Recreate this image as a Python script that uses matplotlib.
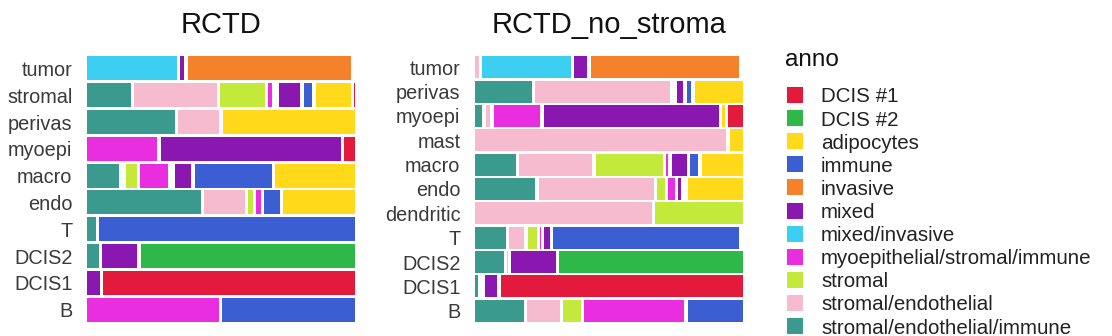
import numpy as np
import matplotlib
matplotlib.use("Agg")
from matplotlib import pyplot as plt
from matplotlib.patches import Rectangle

plt.rcParams['font.family'] = ['Liberation Sans', 'DejaVu Sans']

# categories, in the order they are stacked left -> right
anno_order = ["stromal/endothelial/immune", "stromal/endothelial", "stromal",
              "myoepithelial/stromal/immune", "mixed/invasive", "mixed",
              "invasive", "immune", "adipocytes", "DCIS #2", "DCIS #1"]
anno_colors = ["#3B9A8E", "#F7BBD0", "#C3EA3A", "#E92EE0", "#3CCFF2", "#8A18B0",
               "#F5822A", "#3B5FD2", "#FFD91A", "#2EB84A", "#E41A3C"]

# legend order (alphabetical, as in the reference)
legend_order = ["DCIS #1", "DCIS #2", "adipocytes", "immune", "invasive", "mixed",
                "mixed/invasive", "myoepithelial/stromal/immune", "stromal",
                "stromal/endothelial", "stromal/endothelial/immune"]

# relative shares per row (columns follow anno_order)
rctd_rows = ["tumor", "stromal", "perivas", "myoepi", "macro", "endo",
             "T", "DCIS2", "DCIS1", "B"]
rctd_vals = [
    [0, 0, 0, 0, 268, 13, 490, 0, 1, 0, 0],
    [130, 247, 133, 12, 0.5, 63, 0, 26, 105, 0, 2],
    [261, 122, 0, 0, 0, 0, 0, 0, 392, 0, 0],
    [0, 0, 0, 210, 0, 537, 0, 0, 0, 0, 32],
    [95, 0.5, 33, 84, 0.5, 50, 0, 230, 240, 0, 0],
    [340, 122, 15, 13, 0, 0, 0, 47, 215, 0, 0],
    [26, 0, 0, 0, 0, 0, 0, 765, 0, 0, 0],
    [36, 0, 0, 0, 0, 104, 0, 0, 0, 640, 0],
    [0, 0, 0, 0, 0, 38, 0, 0, 0, 0, 753],
    [0, 0, 0, 394, 0, 0, 0, 397, 0, 0, 0],
]

nostroma_rows = ["tumor", "perivas", "myoepi", "mast", "macro", "endo",
                 "dendritic", "T", "DCIS2", "DCIS1", "B"]
nostroma_vals = [
    [0, 12, 0, 0, 263, 40, 443, 0, 1, 0, 0],
    [172, 406, 0, 0.5, 0, 18, 0, 15, 145, 0, 0],
    [22, 14, 0, 140, 0, 525, 0, 0, 8, 0, 44],
    [0, 757, 0, 0, 0, 0, 0, 0, 40, 0, 0],
    [123, 222, 202, 8, 0, 45, 0, 25, 125, 0, 0],
    [182, 347, 24, 20, 0, 10, 0, 0.5, 165, 0, 0],
    [0, 533, 264, 0, 0, 0, 0, 0, 0, 0, 0],
    [93, 45, 28, 0.5, 0, 18, 0, 557, 1, 0, 0],
    [87, 0.5, 0, 0, 0, 135, 0, 0, 0, 550, 0],
    [10, 0, 0, 0, 0.5, 37, 0, 0, 0, 0, 728],
    [145, 98, 53, 298, 0, 0, 0, 165, 0, 0, 0],
]

W, H = 1112, 336
fig = plt.figure(figsize=(W / 100, H / 100), dpi=100)

GAP = 0.0125


def mosaic(ax, rows, vals):
    n = len(rows)
    for i, row in enumerate(vals):
        row = np.array(row, dtype=float)
        nz = [k for k in range(len(row)) if row[k] > 0]
        avail = 1 - GAP * (len(nz) - 1)
        shares = row / row.sum() * avail
        x = 0.0
        y = n - 1 - i
        for k in nz:
            ax.barh(y, shares[k], left=x, height=0.9, color=anno_colors[k],
                    edgecolor="none")
            x += shares[k] + GAP
    ax.set_xlim(0, 1)
    ax.set_ylim(-0.5, n - 0.5)
    ax.set_yticks(range(n))
    ax.set_yticklabels(rows[::-1])
    ax.tick_params(axis="y", length=0, pad=10.5, labelsize=14.3, labelcolor="#3a3a3a")
    ax.set_xticks([])
    for s in ax.spines.values():
        s.set_visible(False)


def px_axes(x0, y0, x1, y1):
    return fig.add_axes([x0 / W, 1 - y1 / H, (x1 - x0) / W, (y1 - y0) / H])


ax1 = px_axes(87, 55, 355, 323)
mosaic(ax1, rctd_rows, rctd_vals)
fig.text((87 + 355) / 2 / W, 1 - 33 / H, "RCTD", ha="center", va="baseline",
         fontsize=21, color="#111111")

ax2 = px_axes(475, 55, 743, 323)
mosaic(ax2, nostroma_rows, nostroma_vals)
fig.text((475 + 743) / 2 / W, 1 - 33 / H, "RCTD_no_stroma", ha="center",
         va="baseline", fontsize=21, color="#111111")

# legend
fig.text(785 / W, 1 - 66 / H, "anno", ha="left", va="baseline", fontsize=17.5,
         color="#111111")
for j, name in enumerate(legend_order):
    yc = 95 + 23.1 * j
    col = anno_colors[anno_order.index(name)]
    fig.add_artist(Rectangle((787 / W, 1 - (yc + 8) / H), 16 / W, 16 / H,
                             transform=fig.transFigure, facecolor=col,
                             edgecolor="none"))
    fig.text(821 / W, 1 - yc / H, name, ha="left", va="center_baseline",
             fontsize=14.8, color="#222222")

fig.savefig("out.png", dpi=100)
